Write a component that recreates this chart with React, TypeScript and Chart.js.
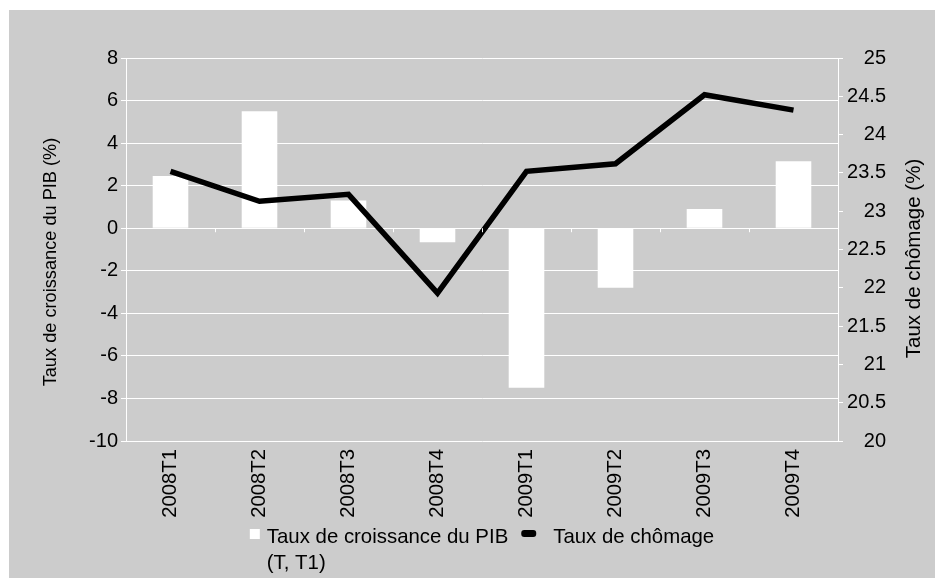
import React, { useEffect, useRef } from "react";
import { Chart, registerables } from "chart.js";

Chart.register(...registerables);

const categories = ["2008T1", "2008T2", "2008T3", "2008T4", "2009T1", "2009T2", "2009T3", "2009T4"];
const gdpGrowth = [2.45, 5.5, 1.3, -0.66, -7.5, -2.8, 0.9, 3.15];
const unemployment = [23.52, 23.13, 23.22, 21.93, 23.52, 23.62, 24.52, 24.32];
const gdpLabel = ["Taux de croissance du PIB", "(T, T1)"];
const unemploymentLabel = "Taux de chômage";
const leftTitle = "Taux de croissance du PIB (%)";
const rightTitle = "Taux de chômage (%)";

const FONT = "'Liberation Sans', Arial, sans-serif";
const FS = 20;

const extrasPlugin = {
  id: "extras",
  afterDraw(chart: any) {
    const { ctx, chartArea } = chart;
    const x = chart.scales.x;
    const y = chart.scales.y;
    ctx.save();
    // small ticks at zero line on category boundaries
    const zy = y.getPixelForValue(0);
    ctx.strokeStyle = "#ffffff";
    ctx.lineWidth = 1;
    for (let i = 0; i <= categories.length; i++) {
      const px = Math.round(x.getPixelForValue(i - 0.5)) + 0.5;
      ctx.beginPath();
      ctx.moveTo(px, zy);
      ctx.lineTo(px, zy + 4);
      ctx.stroke();
    }
    // axis titles (both read bottom-to-top)
    ctx.fillStyle = "#000";
    ctx.textAlign = "center";
    ctx.textBaseline = "middle";
    const cy = (chartArea.top + chartArea.bottom) / 2;
    ctx.save();
    ctx.font = `18.2px ${FONT}`;
    ctx.translate(42, cy + 12.5);
    ctx.rotate(-Math.PI / 2);
    ctx.fillText(leftTitle, 0, 0);
    ctx.restore();
    ctx.save();
    ctx.font = `20.5px ${FONT}`;
    ctx.translate(905, cy + 9);
    ctx.rotate(-Math.PI / 2);
    ctx.fillText(rightTitle, 0, 0);
    ctx.restore();

    // legend
    ctx.font = `20.4px ${FONT}`;
    ctx.textAlign = "left";
    const w1 = Math.max(ctx.measureText(gdpLabel[0]).width, ctx.measureText(gdpLabel[1]).width);
    const w2 = ctx.measureText(unemploymentLabel).width;
    const total = 10 + 7 + w1 + 13 + 15 + 17 + w2;
    const cx = (chartArea.left + chartArea.right) / 2;
    let lx = cx - total / 2;
    const ly = 527;
    ctx.fillStyle = "#ffffff";
    ctx.fillRect(lx, ly - 8, 10, 10);
    ctx.fillStyle = "#000";
    ctx.fillText(gdpLabel[0], lx + 17, ly);
    ctx.fillText(gdpLabel[1], lx + 17, ly + 26);
    lx += 10 + 7 + w1 + 13;
    ctx.beginPath();
    if ((ctx as any).roundRect) {
      (ctx as any).roundRect(lx, ly - 7, 15, 7, 3);
    } else {
      ctx.rect(lx, ly - 7, 15, 7);
    }
    ctx.fill();
    ctx.fillText(unemploymentLabel, lx + 15 + 17, ly);
    ctx.restore();
  },
};

export default function App() {
  const ref = useRef<HTMLCanvasElement>(null);
  useEffect(() => {
    if (!ref.current) return;
    Chart.defaults.font.family = FONT;
    Chart.defaults.font.size = FS;
    Chart.defaults.color = "#000";
    const chart = new Chart(ref.current, {
      type: "bar",
      data: {
        labels: categories,
        datasets: [
          {
            type: "line",
            label: unemploymentLabel,
            data: unemployment,
            yAxisID: "y1",
            borderColor: "#000",
            backgroundColor: "#000",
            borderWidth: 5.5,
            pointRadius: 0,
            tension: 0,
            order: 0,
          } as any,
          {
            type: "bar",
            label: gdpLabel.join(" "),
            data: gdpGrowth,
            yAxisID: "y",
            backgroundColor: "#ffffff",
            borderWidth: 0,
            categoryPercentage: 1,
            barPercentage: 0.4,
            order: 1,
          },
        ],
      },
      options: {
        animation: false,
        responsive: false,
        maintainAspectRatio: false,
        layout: { padding: { left: 0, right: 49, top: 48, bottom: 57 } },
        plugins: { legend: { display: false }, tooltip: { enabled: false } },
        scales: {
          x: {
            grid: { display: false, drawTicks: false },
            border: { display: false },
            ticks: { autoSkip: false, minRotation: 90, maxRotation: 90, padding: 8, font: { size: 20.3 } },
            afterFit: (s: any) => { s.height = 80; },
          },
          y: {
            position: "left",
            min: -10,
            max: 8,
            grid: { color: "#ffffff", lineWidth: 1, tickLength: 5, drawTicks: true },
            border: { display: true, color: "#ffffff", width: 1 },
            ticks: { stepSize: 2, padding: 3, font: { size: FS } },
            afterFit: (s: any) => { s.width = 117; },
          },
          y1: {
            position: "right",
            min: 20,
            max: 25,
            grid: { drawOnChartArea: false, color: "#ffffff", tickLength: 5 },
            border: { display: true, color: "#ffffff", width: 1 },
            ticks: {
              stepSize: 0.5,
              padding: 4,
              crossAlign: "far",
              font: { size: FS },
              callback: (v: any) => String(Number(v)),
            },
            afterFit: (s: any) => { s.width = 48; },
          },
        },
      } as any,
      plugins: [extrasPlugin],
    });
    return () => chart.destroy();
  }, []);
  return (
    <div style={{ position: "fixed", left: 9, top: 10, width: 926, height: 568, background: "#cccccc" }}>
      <canvas ref={ref} width={926} height={568} style={{ display: "block" }} />
    </div>
  );
}
